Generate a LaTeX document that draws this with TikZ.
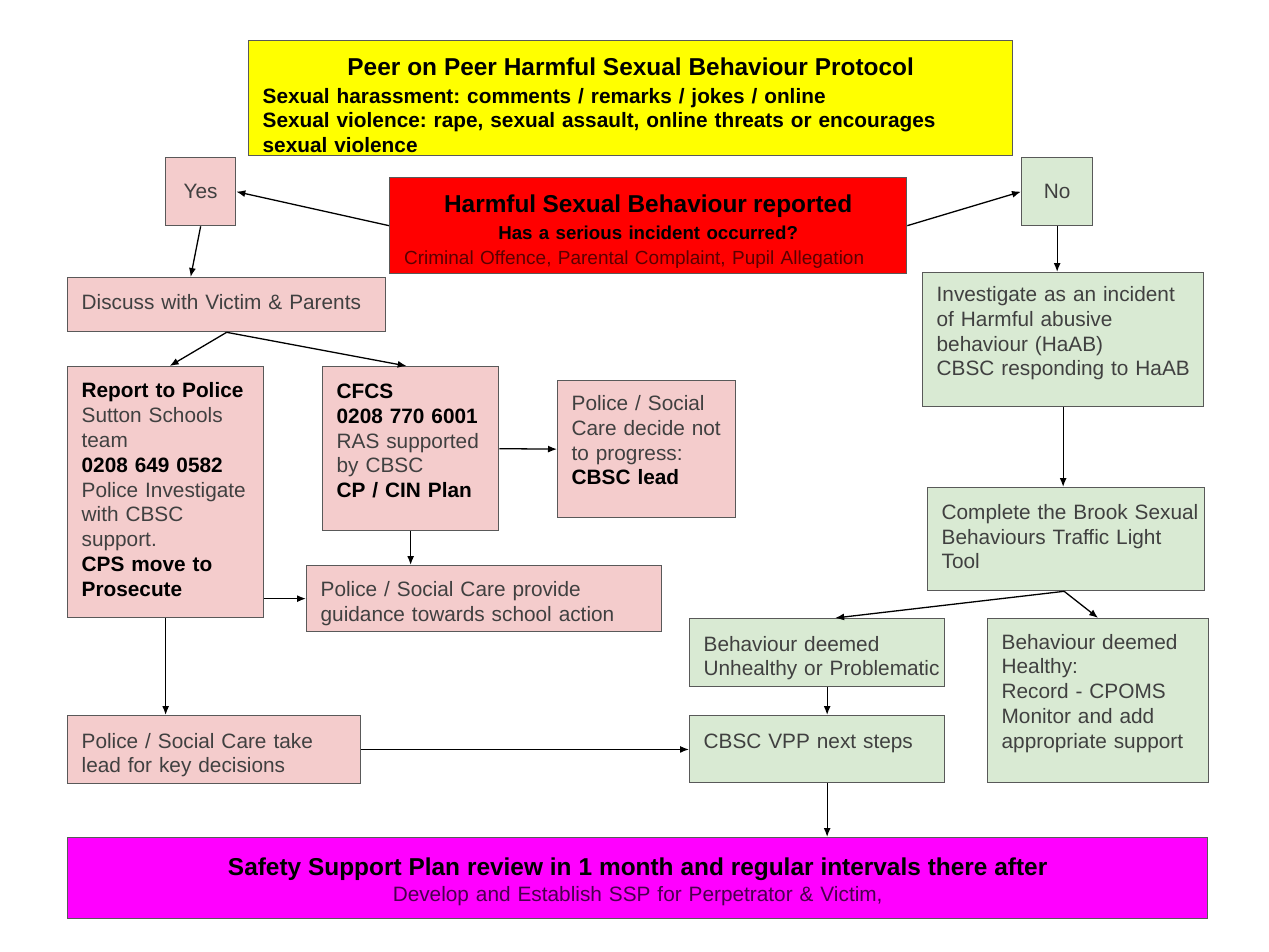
\documentclass[tikz,border=0pt]{standalone}
\usepackage{fontspec}
\setmainfont{Liberation Sans}
\usetikzlibrary{arrows.meta}
\definecolor{pinkF}{HTML}{F4CCCC}
\definecolor{greenF}{HTML}{D9EAD3}
\definecolor{yelF}{HTML}{FFFF00}
\definecolor{redF}{HTML}{FF0000}
\definecolor{magF}{HTML}{FF00FF}
\definecolor{txtG}{HTML}{404040}
\definecolor{darkR}{HTML}{5A0000}
\definecolor{darkM}{HTML}{48004C}
\frenchspacing
\newcommand{\hb}[1]{\textbf{\color{black}#1}}
\newcommand{\bodysize}{\fontsize{20.8}{24.8}\selectfont}
\newcommand{\tl}[1]{\begin{tabular}{@{}l@{}}#1\end{tabular}}
\begin{document}
\begin{tikzpicture}[x=1pt,y=-1pt,box/.style={draw=black!65,line width=1.3pt,anchor=north west,inner xsep=14pt,inner ysep=3pt,align=left,text=txtG,font=\bodysize},boxP/.style={box,fill=pinkF},boxG/.style={box,fill=greenF},arr/.style={-{Latex[length=9pt,width=7pt]},line width=1.3pt}]
\fill[white] (0,0) rectangle (1269,951);
\useasboundingbox (0,0) rectangle (1269,951);

\node[box,fill=yelF,text=black,font=\bfseries\fontsize{20.8}{24.5}\selectfont,minimum width=764,minimum height=115,text width=736] (Title) at (248,40) {\makebox[736pt][c]{\rule{0pt}{31.5pt}\fontsize{24.4}{28}\selectfont Peer on Peer Harmful Sexual Behaviour Protocol}\\[3pt]Sexual harassment: comments / remarks / jokes / online\\Sexual violence: rape, sexual assault, online threats or encourages\\sexual violence};

\node[box,fill=redF,text=darkR,align=center,font=\fontsize{19}{25}\selectfont,minimum width=517,minimum height=96,text width=489] (Rep) at (389,177) {\rule{0pt}{29.5pt}\hb{\fontsize{24.4}{28}\selectfont Harmful Sexual Behaviour reported}\\[1.5pt]\hb{\fontsize{18.7}{25}\selectfont Has a serious incident occurred?}\\Criminal Offence, Parental Complaint, Pupil Allegation\hspace*{28pt}};

\node[boxP,align=center,inner xsep=0pt,minimum width=70,minimum height=68] (Yes) at (165,157) {Yes};
\draw[arr] (Rep.west) -- (Yes.east);
\node[boxG,align=center,inner xsep=0pt,minimum width=71,minimum height=68] (No) at (1021,157) {No};
\draw[arr] (Rep.east) -- (No.west);

\node[boxP,minimum width=318,minimum height=54,text width=290] (Disc) at (67,277) {\tl{Discuss with Victim \& Parents}};
\draw[arr] (Yes.south) -- ([xshift=-10pt]Yes.south |- Disc.north);

\node[boxP,minimum width=196,minimum height=251,text width=168] (Police) at (67,366) {\tl{\hb{Report to Police}\\Sutton Schools\\team\\\hb{0208 649 0582}\\Police Investigate\\with CBSC\\support.\\\hb{CPS move to}\\\hb{Prosecute}}};
\draw[arr] (Disc.south) -- ([xshift=4pt]Police.north);

\node[boxP,minimum width=176,minimum height=164,text width=148] (CFCS) at (322,366) {\tl{\hb{CFCS}\\\hb{0208 770 6001}\\RAS supported\\by CBSC\\\hb{CP / CIN Plan}\\[-13.8pt]\mbox{}}};
\draw[arr] (Disc.south) -- ([xshift=-4pt]CFCS.north);

\node[boxP,minimum width=178,minimum height=137,text width=150] (NoProg) at (557,380) {\tl{Police / Social\\Care decide not\\to progress:\\\hb{CBSC lead}\\[-11.8pt]\mbox{}}};
\draw[arr] (CFCS.east) -- (NoProg.west);

\node[boxP,minimum width=355,minimum height=66,text width=327] (Guide) at (306,565) {\tl{\mbox{}\\[-14.8pt]Police / Social Care provide\\guidance towards school action}};
\draw[arr] (CFCS.south) -- (CFCS.south |- Guide.north);
\draw[arr] (Police.east |- Guide.west) -- (Guide.west);

\node[boxP,minimum width=293,minimum height=66,text width=265] (Lead) at (67,715) {\tl{\mbox{}\\[-12.8pt]Police / Social Care take\\lead for key decisions}};
\draw[arr] (Police.south) -- (Police.south |- Lead.north);

\node[boxG,minimum width=281,minimum height=134,text width=253] (Inv) at (922,272) {\tl{Investigate as an incident\\of Harmful abusive\\behaviour (HaAB)\\CBSC responding to HaAB\\[-12.8pt]\mbox{}}};
\draw[arr] (No.south) -- (No.south |- Inv.north);

\node[boxG,minimum width=277,minimum height=103,text width=249] (Brook) at (927,487) {\tl{Complete the Brook Sexual\\Behaviours Traffic Light\\Tool}};
\draw[arr] (Inv.south) -- (Inv.south |- Brook.north);

\node[boxG,minimum width=255,minimum height=66,text width=227] (Unh) at (689,618) {\tl{\mbox{}\\[-12.8pt]Behaviour deemed\\Unhealthy or Problematic}};
\draw[arr] ([xshift=-2pt]Brook.south) -- ([xshift=18pt]Unh.north);
\node[boxG,minimum width=221,minimum height=164,text width=193] (Healthy) at (987,618) {\tl{Behaviour deemed\\Healthy:\\Record - CPOMS\\Monitor and add\\appropriate support\\[-10.8pt]\mbox{}}};
\draw[arr] ([xshift=-2pt]Brook.south) -- (Healthy.north);

\node[boxG,minimum width=255,minimum height=67,text width=227] (VPP) at (689,715) {\tl{CBSC VPP next steps\\[-12.8pt]\mbox{}}};
\draw[arr] ([xshift=10pt]Unh.south) -- ([xshift=10pt]VPP.north);
\draw[arr] (Lead.east) -- (Lead.east -| VPP.west);

\node[box,fill=magF,text=darkM,align=center,font=\fontsize{20.8}{26}\selectfont,minimum width=1140,minimum height=81,text width=1112] (SSP) at (67,837) {\rule{0pt}{24.8pt}\hb{\fontsize{24.4}{28}\selectfont Safety Support Plan review in 1 month and regular intervals there after}\\Develop and Establish SSP for Perpetrator \& Victim,};
\draw[arr] ([xshift=10pt]VPP.south) -- ([xshift=10pt]VPP.south |- SSP.north);
\end{tikzpicture}
\end{document}
